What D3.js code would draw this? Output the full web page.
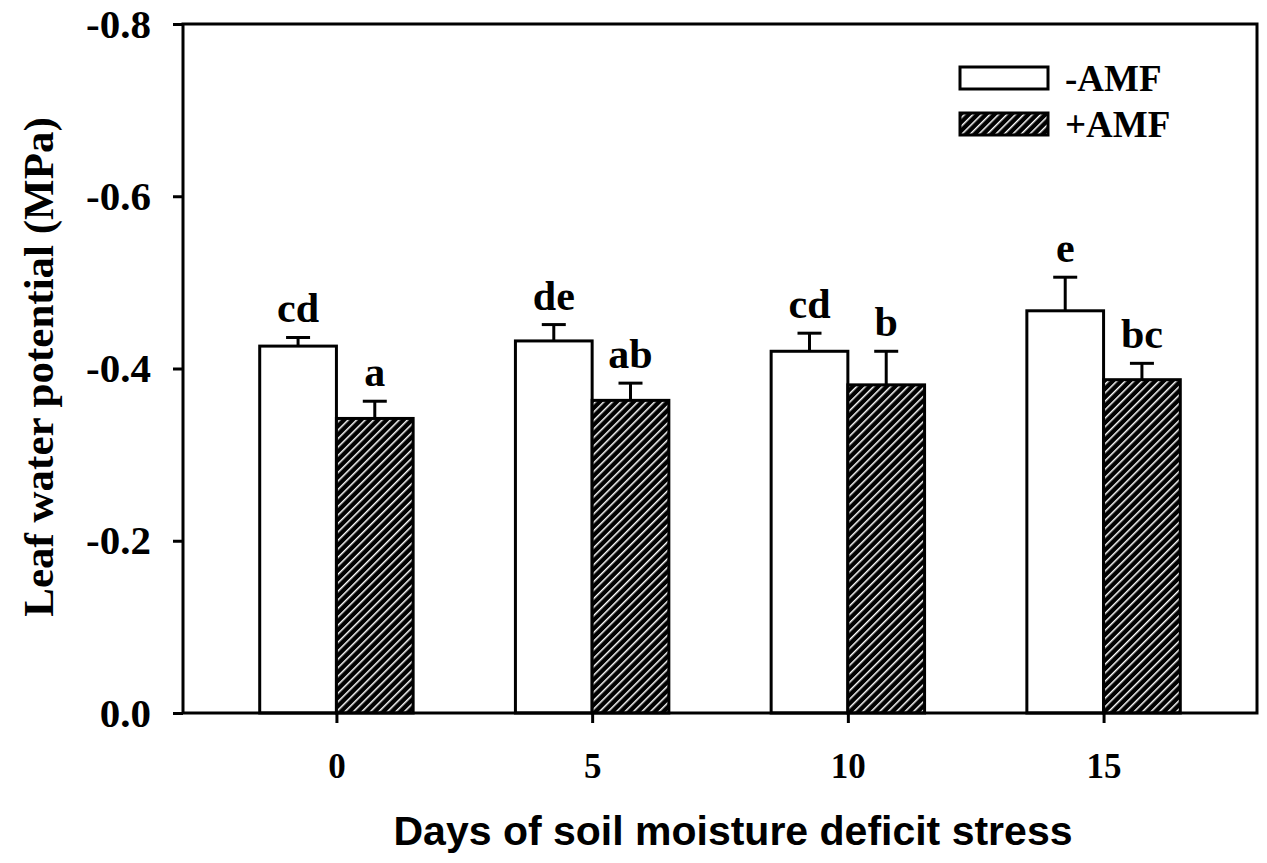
<!DOCTYPE html>
<html>
<head>
<meta charset="utf-8">
<script src="https://cdn.jsdelivr.net/npm/d3@7"></script>
<style>
  body { margin: 0; background: #fff; }
  svg { display: block; }
</style>
</head>
<body>
<div id="graph"></div>
<script>
// Data
const days = [0, 5, 10, 15];
const seriesNames = ["-AMF", "+AMF"];
const minusAMF = [-0.426, -0.432, -0.420, -0.467];
const minusAMFErr = [0.010, 0.019, 0.021, 0.039];
const plusAMF = [-0.342, -0.363, -0.381, -0.387];
const plusAMFErr = [0.020, 0.020, 0.039, 0.019];
const minusLetters = ["cd", "de", "cd", "e"];
const plusLetters = ["a", "ab", "b", "bc"];
const yTicks = [0, -0.2, -0.4, -0.6, -0.8];

function createChart() {
    d3.select("#graph").selectAll("*").remove();

    const width = 1267;
    const height = 863;
    const margin = {top: 24, right: 10, bottom: 150, left: 183};
    const innerWidth = width - margin.left - margin.right;
    const innerHeight = height - margin.top - margin.bottom;

    const serif = "'Liberation Serif', 'Times New Roman', serif";
    const sans = "'Liberation Sans', Arial, sans-serif";

    const svg = d3.select("#graph")
        .append("svg")
        .attr("width", width)
        .attr("height", height);

    // Hatch pattern
    const defs = svg.append("defs");
    defs.append("pattern")
        .attr("id", "hatch")
        .attr("patternUnits", "userSpaceOnUse")
        .attr("width", 6)
        .attr("height", 6)
        .attr("patternTransform", "rotate(45)")
        .call(p => {
            p.append("rect").attr("width", 6).attr("height", 6).attr("fill", "#000");
            p.append("line")
                .attr("x1", 0).attr("y1", 0).attr("x2", 0).attr("y2", 6)
                .attr("stroke", "#fff").attr("stroke-width", 3);
        });

    const g = svg.append("g")
        .attr("transform", `translate(${margin.left},${margin.top})`);

    // Scales
    const xScale = d3.scaleLinear()
        .domain([-3, 18])
        .range([0, innerWidth]);

    const yScale = d3.scaleLinear()
        .domain([0, -0.8])
        .range([innerHeight, 0]);

    const barW = xScale(1.5) - xScale(0);

    // Bars
    const groups = [
        {vals: minusAMF, errs: minusAMFErr, letters: minusLetters, off: -1.5, fill: "#fff"},
        {vals: plusAMF, errs: plusAMFErr, letters: plusLetters, off: 0, fill: "url(#hatch)"}
    ];

    groups.forEach(s => {
        const data = days.map((d, i) => ({day: d, v: s.vals[i], e: s.errs[i], l: s.letters[i]}));
        const x0 = d => xScale(d.day + s.off);
        const xc = d => x0(d) + barW / 2;

        g.selectAll(null)
            .data(data)
            .enter().append("rect")
            .attr("x", x0)
            .attr("y", d => yScale(d.v))
            .attr("width", barW)
            .attr("height", d => yScale(0) - yScale(d.v))
            .attr("fill", s.fill)
            .attr("stroke", "#000")
            .attr("stroke-width", 3);

        // Error bars
        g.selectAll(null)
            .data(data)
            .enter().append("line")
            .attr("x1", xc).attr("x2", xc)
            .attr("y1", d => yScale(d.v))
            .attr("y2", d => yScale(d.v - d.e))
            .attr("stroke", "#000")
            .attr("stroke-width", 3);

        g.selectAll(null)
            .data(data)
            .enter().append("line")
            .attr("x1", d => xc(d) - 12).attr("x2", d => xc(d) + 12)
            .attr("y1", d => yScale(d.v - d.e))
            .attr("y2", d => yScale(d.v - d.e))
            .attr("stroke", "#000")
            .attr("stroke-width", 3);

        // Significance letters
        g.selectAll(null)
            .data(data)
            .enter().append("text")
            .attr("x", xc)
            .attr("y", d => yScale(d.v - d.e) - 15)
            .attr("text-anchor", "middle")
            .attr("font-family", serif)
            .attr("font-weight", "bold")
            .attr("font-size", "42px")
            .text(d => d.l);
    });

    // Axes
    const xAxis = d3.axisBottom(xScale)
        .tickValues(days)
        .tickSize(10)
        .tickPadding(30)
        .tickFormat(d3.format("d"));

    const yAxis = d3.axisLeft(yScale)
        .tickValues(yTicks)
        .tickSize(10)
        .tickPadding(22)
        .tickFormat(d => d === 0 ? "0.0" : d3.format(".1f")(d).replace("−", "-"));

    const xg = g.append("g")
        .attr("transform", `translate(0,${innerHeight})`)
        .call(xAxis);

    const yg = g.append("g")
        .call(yAxis);

    [xg, yg].forEach(a => {
        a.select(".domain").remove();
        a.selectAll(".tick line").attr("stroke", "#000").attr("stroke-width", 3);
        a.selectAll(".tick text")
            .attr("fill", "#000")
            .attr("font-family", serif)
            .attr("font-weight", "bold");
    });
    xg.selectAll(".tick text").attr("font-size", "35px");
    yg.selectAll(".tick text").attr("font-size", "41px");

    // Frame
    g.append("rect")
        .attr("width", innerWidth)
        .attr("height", innerHeight)
        .attr("fill", "none")
        .attr("stroke", "#000")
        .attr("stroke-width", 3);

    // Axis labels
    g.append("text")
        .attr("transform", "rotate(-90)")
        .attr("x", -343)
        .attr("y", -130)
        .attr("text-anchor", "middle")
        .attr("font-family", serif)
        .attr("font-weight", "bold")
        .attr("font-size", "43px")
        .text("Leaf water potential (MPa)");

    g.append("text")
        .attr("x", xScale(7.5) + 13)
        .attr("y", innerHeight + 132)
        .attr("text-anchor", "middle")
        .attr("font-family", sans)
        .attr("font-weight", "bold")
        .attr("font-size", "41px")
        .text("Days of soil moisture deficit stress");

    // Legend
    const legend = g.append("g")
        .attr("transform", `translate(${960 - margin.left},${67 - margin.top})`);
    const fills = ["#fff", "url(#hatch)"];
    seriesNames.forEach((name, i) => {
        legend.append("rect")
            .attr("x", 0)
            .attr("y", i * 46)
            .attr("width", 88)
            .attr("height", 22)
            .attr("fill", fills[i])
            .attr("stroke", "#000")
            .attr("stroke-width", 3);
        legend.append("text")
            .attr("x", 105)
            .attr("y", i * 46 + 24)
            .attr("font-family", serif)
            .attr("font-weight", "bold")
            .attr("font-size", "37px")
            .text(name);
    });
}

createChart();
</script>
</body>
</html>
